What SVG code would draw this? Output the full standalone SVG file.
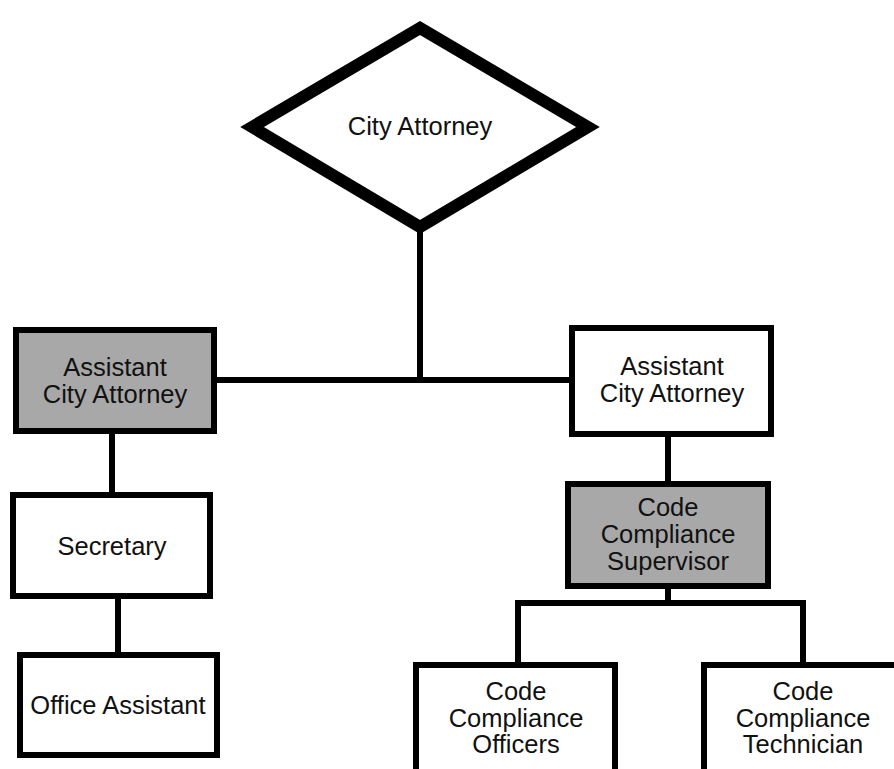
<svg xmlns="http://www.w3.org/2000/svg" width="894" height="769" viewBox="0 0 894 769">
<style>
.box{stroke:#000;stroke-width:6;fill:#fff}
.gray{fill:#a8a8a8}
.conn{stroke:#000;stroke-width:6;fill:none}
text{font-family:"Liberation Sans",Arial,sans-serif;font-size:25.5px;fill:#111;text-anchor:middle}
</style>
<rect width="894" height="769" fill="#fff"/>
<g id="connectors">
<line class="conn" x1="420" y1="224" x2="420" y2="383"/>
<line class="conn" x1="214" y1="380" x2="572" y2="380"/>
<line class="conn" x1="112" y1="431" x2="112" y2="495"/>
<line class="conn" x1="118" y1="596" x2="118" y2="655"/>
<line class="conn" x1="668" y1="434" x2="668" y2="484"/>
<polyline class="conn" points="518,665 518,603 803,603 803,665"/>
<line class="conn" x1="668" y1="586" x2="668" y2="603"/>
</g>
<g id="city-attorney">
<polygon points="420,28 588,127 420,227 252,127" fill="#fff" stroke="#000" stroke-width="12" stroke-linejoin="miter"/>
<text x="420" y="135">City Attorney</text>
</g>
<g id="asst-left">
<rect class="box gray" x="16" y="330" width="198" height="101"/>
<text x="115" y="376">Assistant</text>
<text x="115" y="403">City Attorney</text>
</g>
<g id="asst-right">
<rect class="box" x="572" y="328" width="199" height="106"/>
<text x="672" y="375">Assistant</text>
<text x="672" y="402">City Attorney</text>
</g>
<g id="secretary">
<rect class="box" x="13" y="495" width="197" height="101"/>
<text x="112" y="555">Secretary</text>
</g>
<g id="office-assistant">
<rect class="box" x="20" y="655" width="197" height="100"/>
<text x="118" y="714">Office Assistant</text>
</g>
<g id="supervisor">
<rect class="box gray" x="568" y="484" width="200" height="102"/>
<text x="668" y="516">Code</text>
<text x="668" y="543">Compliance</text>
<text x="668" y="570">Supervisor</text>
</g>
<g id="officers">
<rect class="box" x="416" y="665" width="199" height="130"/>
<text x="516" y="700">Code</text>
<text x="516" y="727">Compliance</text>
<text x="516" y="753">Officers</text>
</g>
<g id="technician">
<rect class="box" x="704" y="665" width="199" height="130"/>
<text x="803" y="700">Code</text>
<text x="803" y="727">Compliance</text>
<text x="803" y="753">Technician</text>
</g>
</svg>
